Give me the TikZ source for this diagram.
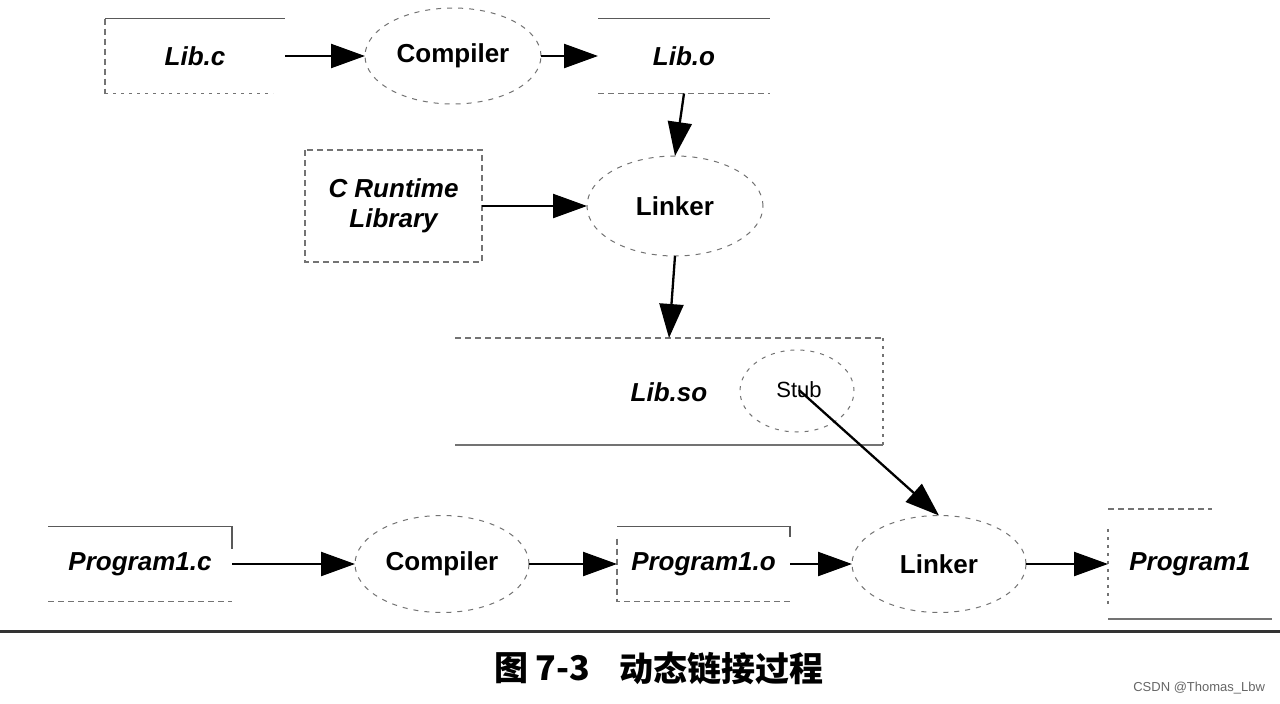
\documentclass[tikz,border=0pt]{standalone}
\usepackage{fontspec}
\setmainfont{Liberation Sans}
\newfontfamily\cjk{Noto Sans CJK SC}
\usetikzlibrary{shapes.geometric,arrows.meta}
\tikzset{
  every node/.style={inner sep=0pt, outer sep=0pt},
  filebox/.style={draw=none, rectangle, font=\fontsize{26}{30}\selectfont\bfseries\itshape},
  proc/.style={ellipse, draw=black!55, line width=1pt, dash pattern=on 5pt off 6pt, font=\fontsize{26}{30}\selectfont\bfseries},
  solidedge/.style={draw=black!65, line width=1.3pt},
  dashedge/.style={draw=black!55, line width=1.1pt, dash pattern=on 6pt off 4pt},
  dotedge/.style={draw=black!55, line width=1.1pt, dash pattern=on 3pt off 5pt},
  arr/.style={draw=black, line width=2.3pt, -{Triangle[length=34pt,width=24pt]}},
}
\begin{document}
\begin{tikzpicture}[x=1pt,y=-1pt]
\useasboundingbox (0,0) rectangle (1280,704);
\fill[white] (0,0) rectangle (1280,704);

% top row
\node[filebox, minimum width=180pt, minimum height=75pt] (libc) at (195,56) {Lib.c};
\node[proc, minimum width=176pt, minimum height=96pt] (comp1) at (453,56) {Compiler};
\node[filebox, minimum width=172pt, minimum height=75pt] (libo) at (684,56) {Lib.o};

% second row
\node[filebox, minimum width=177pt, minimum height=112pt, align=center] (crt) at (393.5,206) {C Runtime\\Library};
\node[proc, minimum width=176pt, minimum height=100pt] (link1) at (675,206) {Linker};

% Lib.so
\node[filebox, minimum width=428pt, minimum height=107pt] (libso) at (669,391.5) {\hspace*{0pt}};
\node[font=\fontsize{26}{30}\selectfont\bfseries\itshape] (libsot) at (669,392) {Lib.so};
\node[ellipse, draw=black!55, line width=1pt, dash pattern=on 4pt off 6pt, minimum width=114pt, minimum height=82pt] (stub) at (797,391) {};
\node[font=\fontsize{22}{26}\selectfont] (stubt) at (799,390) {Stub};

% bottom row
\node[filebox, minimum width=184pt, minimum height=75pt] (p1c) at (140,564) {Program1.c};
\node[proc, minimum width=174pt, minimum height=97pt] (comp2) at (442,564) {Compiler};
\node[filebox, minimum width=173pt, minimum height=75pt] (p1o) at (703.5,564) {Program1.o};
\node[proc, minimum width=174pt, minimum height=97pt] (link2) at (939,564) {Linker};
\node[filebox, minimum width=164pt, minimum height=110pt] (p1) at (1190,564) {Program1};

% box edges
\draw[solidedge] (libc.north west) -- (libc.north east);
\draw[dashedge] (libc.north west) -- (libc.south west);
\draw[dotedge] (libc.south west) -- ([xshift=-12pt]libc.south east);

\draw[solidedge] (libo.north west) -- (libo.north east);
\draw[dashedge] (libo.south west) -- (libo.south east);

\draw[dashedge] (crt.north west) rectangle (crt.south east);

\draw[dashedge] (libso.north west) -- (libso.north east);
\draw[dotedge] (libso.north east) -- (libso.south east);
\draw[solidedge, draw=black!55] (libso.south west) -- (libso.south east);

\draw[solidedge] (p1c.north west) -- (p1c.north east) -- ([yshift=-22pt]p1c.north east);
\draw[dashedge] (p1c.south west) -- (p1c.south east);

\draw[solidedge] (p1o.north west) -- (p1o.north east) -- ([yshift=-10pt]p1o.north east);
\draw[dashedge] ([yshift=-12pt]p1o.north west) -- (p1o.south west) -- (p1o.south east);

\draw[dashedge] (p1.north west) -- ([xshift=-60pt]p1.north east);
\draw[dotedge] ([yshift=-20pt]p1.north west) -- ([yshift=15pt]p1.south west);
\draw[solidedge, draw=black!55] (p1.south west) -- (p1.south east);

% connectors
\draw[arr] (libc.east) -- (comp1.west);
\draw[arr] (comp1.east) -- (libo.west);
\draw[arr] (libo.south) -- (link1.north);
\draw[arr] (crt.east) -- (link1.west);
\draw[arr] (link1.south) -- (libso.north);
\draw[arr] (stubt.center) -- (link2.north);
\draw[arr] (p1c.east) -- (comp2.west);
\draw[arr] (comp2.east) -- (p1o.west);
\draw[arr] (p1o.east) -- (link2.west);
\draw[arr] (link2.east) -- (p1.west);

% rule and caption
\coordinate (rl) at (0,631);
\coordinate (rr) at (1280,631);
\draw[line width=3pt, black!80] (rl) -- (rr);
\node[anchor=west, font=\fontsize{34}{38}\selectfont\cjk\bfseries] (cap1) at (494,668) {图 7-3};
\node[anchor=west, font=\fontsize{34}{38}\selectfont\cjk\bfseries] (cap2) at (619,668) {动态链接过程};
\node[anchor=east, font=\fontsize{13}{15}\selectfont, text=black!60] (wm) at (1265,688) {CSDN @Thomas\_Lbw};
\end{tikzpicture}
\end{document}
